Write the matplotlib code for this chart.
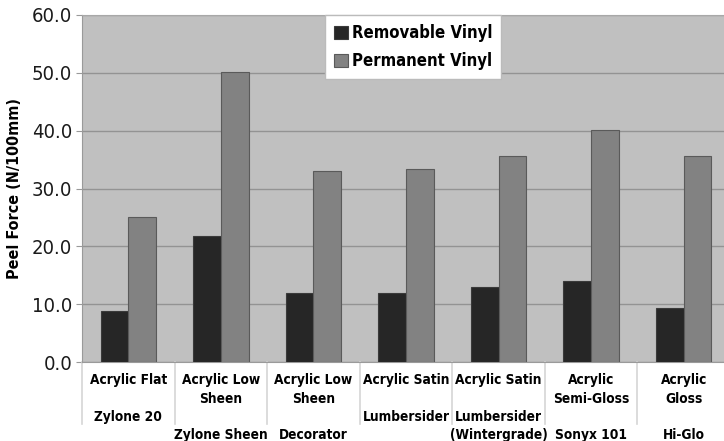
import matplotlib
matplotlib.use("Agg")
import matplotlib.pyplot as plt
import matplotlib.transforms as mtransforms
import numpy as np

plt.rcParams['font.family'] = ['DejaVu Sans']
plt.rcParams['font.stretch'] = 'condensed'

# data
categories = [
    "Acrylic Flat\n\nZylone 20",
    "Acrylic Low\nSheen\n\nZylone Sheen",
    "Acrylic Low\nSheen\n\nDecorator",
    "Acrylic Satin\n\nLumbersider",
    "Acrylic Satin\n\nLumbersider\n(Wintergrade)",
    "Acrylic\nSemi-Gloss\n\nSonyx 101",
    "Acrylic\nGloss\n\nHi-Glo",
]
removable = [8.8, 21.8, 12.0, 12.0, 13.0, 14.0, 9.3]
permanent = [25.0, 50.2, 33.0, 33.4, 35.6, 40.2, 35.6]
series_names = ["Removable Vinyl", "Permanent Vinyl"]
yticks = [0, 10, 20, 30, 40, 50, 60]

fig = plt.figure(figsize=(7.24, 4.41), dpi=100)
# plot area runs a little past the right edge of the picture, as in the original
ax = fig.add_axes([82 / 724, 1 - 362 / 441, 648 / 724, 347 / 441])
ax.set_facecolor('#c0c0c0')

x = np.arange(len(categories))
w = 0.3
ax.bar(x - w / 2, removable, w, color='#262626', edgecolor='#3a3a3a',
       linewidth=0.8, label=series_names[0], zorder=3)
ax.bar(x + w / 2, permanent, w, color='#828282', edgecolor='#5a5a5a',
       linewidth=0.8, label=series_names[1], zorder=3)

ax.set_xlim(-0.5, len(categories) - 0.5)
ax.set_ylim(0, 60)
ax.set_yticks(yticks)
ax.set_yticklabels(["%.1f" % v for v in yticks], fontsize=14.5, color='#1a1a1a')
ax.yaxis.grid(True, color='#939393', linewidth=1, zorder=1)
ax.tick_params(axis='y', length=4, color='#999999', pad=3)

ax.set_xticks(x)
ax.set_xticklabels(categories, fontsize=9.8, fontweight='bold', va='top',
                   linespacing=1.4)
ax.tick_params(axis='x', length=0, pad=8)

for s in ['left', 'bottom']:
    ax.spines[s].set_color('#9a9a9a')
for s in ['top', 'right']:
    ax.spines[s].set_color('#a8a8a8')

# separators between category labels
trans = mtransforms.blended_transform_factory(ax.transData, ax.transAxes)
for b in np.arange(len(categories) + 1) - 0.5:
    ax.plot([b, b], [0, -0.18], transform=trans, color='#d6d6d6',
            linewidth=1.2, clip_on=False)

ax.set_ylabel("Peel Force (N/100mm)", fontsize=11.5, fontweight='bold')
ax.yaxis.set_label_coords(-0.093, 0.5)

leg = ax.legend(loc='upper left', bbox_to_anchor=(0.375, 1.0), borderaxespad=0,
                frameon=True, fancybox=False, framealpha=1, edgecolor='#bbbbbb',
                prop={'weight': 'bold', 'size': 12, 'stretch': 'condensed'},
                handlelength=0.85, handleheight=0.85, handletextpad=0.2,
                labelspacing=0.6, borderpad=0.55)

fig.savefig("out.png", dpi=100)
